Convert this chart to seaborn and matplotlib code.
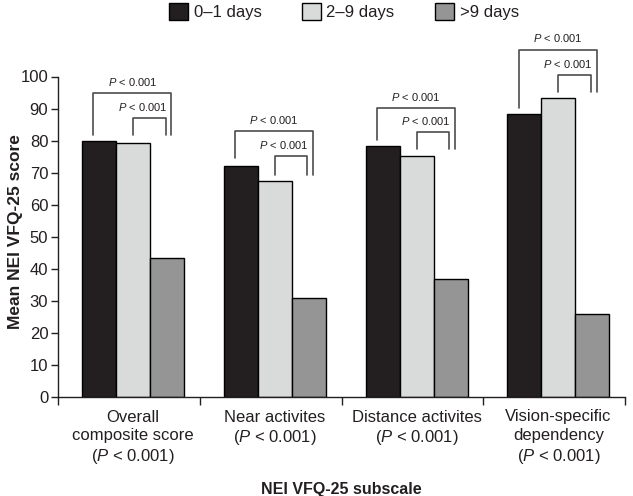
import pandas as pd
import seaborn as sns
import matplotlib.pyplot as plt
from matplotlib.ticker import FixedLocator

subscales = ['Overall composite score', 'Near activites', 'Distance activites', 'Vision-specific dependency']
tick_labels = ['Overall\ncomposite score\n($\\mathit{P}$ < 0.001)',
               'Near activites\n($\\mathit{P}$ < 0.001)',
               'Distance activites\n($\\mathit{P}$ < 0.001)',
               'Vision-specific\ndependency\n($\\mathit{P}$ < 0.001)']
groups = ['0\u20131 days', '2\u20139 days', '>9 days']
days_0_1 = [80.0, 72.0, 78.3, 88.3]
days_2_9 = [79.2, 67.5, 75.2, 93.2]
days_9_plus = [43.5, 31.0, 36.7, 26.0]

# significance brackets (heights in score units)
outer_top = [94.9, 82.9, 90.2, 108.4]
outer_left_end = [81.9, 74.6, 80.3, 90.2]
inner_top = [86.9, 75.1, 82.7, 100.4]
right_end = [81.9, 69.4, 77.4, 95.3]

colors = ['#231f20', '#d9dbda', '#959595']

df = pd.DataFrame({
    'subscale': subscales * 3,
    'group': [g for g in groups for _ in subscales],
    'score': days_0_1 + days_2_9 + days_9_plus,
})

sns.set_style('ticks')
plt.rcParams['font.family'] = ['Liberation Sans', 'DejaVu Sans']
plt.rcParams['mathtext.fontset'] = 'custom'
plt.rcParams['mathtext.it'] = 'Liberation Sans:italic'
plt.rcParams['mathtext.rm'] = 'Liberation Sans'
ink = '#231f20'

fig = plt.figure(figsize=(6.33, 4.96), dpi=100)
ax = fig.add_axes([58 / 633, 99 / 496, 567 / 633, 320.5 / 496])

sns.barplot(data=df, x='subscale', y='score', hue='group', order=subscales,
            hue_order=groups, palette=colors, width=0.72, edgecolor='black',
            linewidth=1, saturation=1, ax=ax)

handles, labels = ax.get_legend_handles_labels()
ax.get_legend().remove()
fig.legend(handles, labels, loc='upper center', bbox_to_anchor=(344 / 633, 1.025),
           ncol=3, frameon=False, fontsize=12, handlelength=1.1, handleheight=1.25,
           handletextpad=0.35, columnspacing=2.45, labelcolor=ink)

ax.set_xlim(-0.53, 3.47)
ax.set_ylim(0, 100)
ax.set_yticks(range(0, 101, 10))
ax.set_xticks(range(4))
ax.set_xticklabels(tick_labels, fontsize=12, linespacing=1.28, color=ink)
ax.xaxis.set_minor_locator(FixedLocator([-0.53, 0.47, 1.47, 2.47, 3.47]))
ax.tick_params(axis='x', which='major', length=0, pad=9)
ax.tick_params(axis='x', which='minor', length=6, width=1, color=ink)
ax.tick_params(axis='y', length=5, width=1, color=ink, labelsize=12, labelcolor=ink, pad=2)
for s in ['top', 'right']:
    ax.spines[s].set_visible(False)
for s in ['left', 'bottom']:
    ax.spines[s].set_color(ink)
    ax.spines[s].set_linewidth(1)

ax.set_xlabel('NEI VFQ-25 subscale', fontsize=11.5, fontweight='bold', color=ink)
ax.set_ylabel('Mean NEI VFQ-25 score', fontsize=12.5, fontweight='bold', color=ink)
ax.xaxis.set_label_coords(0.5, -0.266)
ax.yaxis.set_label_coords(-0.061, 0.515)

bk = dict(color='#4d4d4d', lw=1.2, clip_on=False)
for i in range(4):
    xl, xr = i - 0.28, i + 0.27
    il, ir = i + 0.0, i + 0.23
    ax.plot([xl, xl, xr, xr], [outer_left_end[i], outer_top[i], outer_top[i], right_end[i]], **bk)
    ax.plot([il, il, ir, ir], [right_end[i], inner_top[i], inner_top[i], right_end[i]], **bk)
    ax.text((xl + xr) / 2, outer_top[i] + 1.6, '$\\mathit{P}$ < 0.001', ha='center', va='bottom',
            fontsize=8, color=ink, clip_on=False)
    ax.text((il + ir) / 2 - 0.05, inner_top[i] + 1.6, '$\\mathit{P}$ < 0.001', ha='center', va='bottom',
            fontsize=8, color=ink, clip_on=False)

fig.savefig('out.png', dpi=100)
